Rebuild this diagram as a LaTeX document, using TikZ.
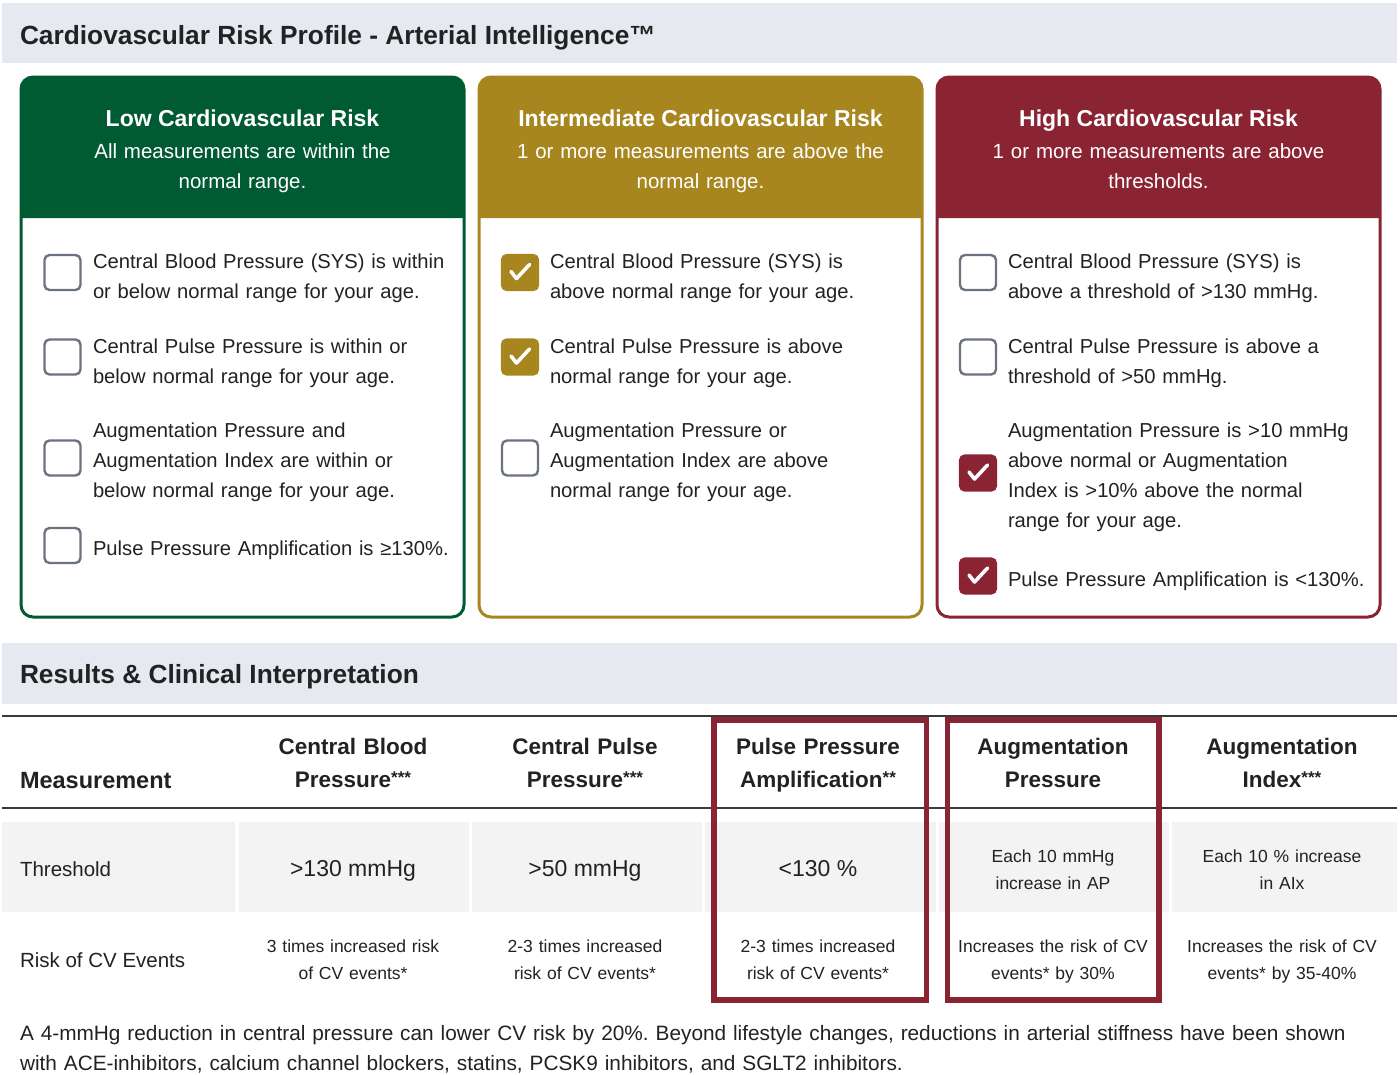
\documentclass[tikz,border=0pt]{standalone}
\usepackage{fontspec}
\setmainfont{Liberation Sans}
\frenchspacing
\definecolor{lowgreen}{HTML}{005A32}
\definecolor{midgold}{HTML}{A7861F}
\definecolor{highred}{HTML}{8A2332}
\definecolor{bandgray}{HTML}{E6E9EF}
\definecolor{cellgray}{HTML}{F3F3F3}
\definecolor{boxgray}{HTML}{6B7280}
\definecolor{ink}{HTML}{222222}
\definecolor{rulegray}{HTML}{3A3A3A}
\tikzset{
  basetxt/.style={inner sep=0pt, outer sep=0pt, text=ink},
  maintitle/.style={basetxt, anchor=base west, font=\bfseries\fontsize{26.3}{30}\selectfont},
  cardtitle/.style={inner sep=0pt, anchor=base, text=white, font=\bfseries\fontsize{23}{30}\selectfont},
  cardsub/.style={inner sep=0pt, anchor=base, text=white, align=center, text width=430pt, font=\fontsize{20.5}{30}\selectfont},
  item/.style={basetxt, anchor=base west, align=left, text width=420pt, font=\fontsize{20.2}{30.2}\selectfont},
  cbox/.style={minimum width=36pt, minimum height=35pt, inner sep=0pt, rounded corners=5pt, line width=2.4pt, draw=boxgray, fill=white},
  cboxon/.style={cbox, draw=#1, fill=#1},
  tick/.style={draw=white, line width=3.6pt, line cap=round, line join=round},
  card/.style={line width=3pt, draw=#1, fill=white, rounded corners=12pt},
  band/.style={fill=bandgray},
  tablerule/.style={draw=rulegray, line width=2pt},
  cell/.style={fill=cellgray},
  hl/.style={draw=highred, line width=5.5pt},
  thead/.style={basetxt, anchor=base, align=center, text width=230pt, font=\bfseries\fontsize{22.5}{33.5}\selectfont},
  rowlabel/.style={basetxt, anchor=base west, font=\fontsize{20.5}{30}\selectfont},
  bigval/.style={basetxt, anchor=base, font=\fontsize{23}{30}\selectfont},
  smallval/.style={basetxt, anchor=base, align=center, text width=230pt, font=\fontsize{17.5}{27}\selectfont},
  foot/.style={basetxt, anchor=base west, align=left, text width=1500pt, font=\fontsize{20.8}{30}\selectfont},
}
\newcommand{\stars}[1]{\raisebox{4pt}{\fontsize{17}{17}\selectfont #1}}
\newcommand{\tickin}[1]{\draw[tick] ([shift={(-9,-1)}]#1.center) -- ([shift={(-3.5,6)}]#1.center) -- ([shift={(9.5,-8)}]#1.center);}
\begin{document}
\begin{tikzpicture}[x=1pt, y=-1pt]
\useasboundingbox (0,0) rectangle (1400,1074);
\fill[white] (0,0) rectangle (1400,1074);

% ---------- top band ----------
\fill[band] (2,3) rectangle (1397,63);
\node[maintitle] (title) at (20,44) {Cardiovascular Risk Profile - Arterial Intelligence™};

% ---------- cards ----------
\draw[card=lowgreen] (21,77) rectangle (464,617);
\fill[lowgreen] (21,218) [rounded corners=12pt]-- (21,77) -- (464,77) [sharp corners]-- (464,218) -- cycle;
\draw[card=midgold] (479,77) rectangle (922,617);
\fill[midgold] (479,218) [rounded corners=12pt]-- (479,77) -- (922,77) [sharp corners]-- (922,218) -- cycle;
\draw[card=highred] (937,77) rectangle (1380,617);
\fill[highred] (937,218) [rounded corners=12pt]-- (937,77) -- (1380,77) [sharp corners]-- (1380,218) -- cycle;

\node[cardtitle] (lowt) at (242.5,126) {Low Cardiovascular Risk};
\node[cardsub] (lows) at (242.5,158) {All measurements are within the\\normal range.};
\node[cardtitle] (midt) at (700.5,126) {Intermediate Cardiovascular Risk};
\node[cardsub] (mids) at (700.5,158) {1 or more measurements are above the\\normal range.};
\node[cardtitle] (hight) at (1158.5,126) {High Cardiovascular Risk};
\node[cardsub] (highs) at (1158.5,158) {1 or more measurements are above\\thresholds.};

% card 1 items
\node[cbox] (c11) at (62.5,272.5) {};
\node[item] (t11) at (93,268) {Central Blood Pressure (SYS) is within\\or below normal range for your age.};
\node[cbox] (c12) at (62.5,357) {};
\node[item] (t12) at (93,353) {Central Pulse Pressure is within or\\below normal range for your age.};
\node[cbox] (c13) at (62.5,458) {};
\node[item] (t13) at (93,437) {Augmentation Pressure and\\Augmentation Index are within or\\below normal range for your age.};
\node[cbox] (c14) at (62.5,545.5) {};
\node[item] (t14) at (93,555.5) {Pulse Pressure Amplification is ≥130\%.};

% card 2 items
\node[cboxon=midgold] (c21) at (520,272.5) {};
\tickin{c21}
\node[item] (t21) at (550,268) {Central Blood Pressure (SYS) is\\above normal range for your age.};
\node[cboxon=midgold] (c22) at (520,357) {};
\tickin{c22}
\node[item] (t22) at (550,353) {Central Pulse Pressure is above\\normal range for your age.};
\node[cbox] (c23) at (520,458) {};
\node[item] (t23) at (550,437) {Augmentation Pressure or\\Augmentation Index are above\\normal range for your age.};

% card 3 items
\node[cbox] (c31) at (978,272.5) {};
\node[item] (t31) at (1008,268) {Central Blood Pressure (SYS) is\\above a threshold of >130 mmHg.};
\node[cbox] (c32) at (978,357) {};
\node[item] (t32) at (1008,353) {Central Pulse Pressure is above a\\threshold of >50 mmHg.};
\node[cboxon=highred] (c33) at (978,473) {};
\tickin{c33}
\node[item] (t33) at (1008,437) {Augmentation Pressure is >10 mmHg\\above normal or Augmentation\\Index is >10\% above the normal\\range for your age.};
\node[cboxon=highred] (c34) at (978,576) {};
\tickin{c34}
\node[item] (t34) at (1008,586) {Pulse Pressure Amplification is <130\%.};

% ---------- results band ----------
\fill[band] (2,643) rectangle (1397,704);
\node[maintitle] (restitle) at (20,683) {Results \& Clinical Interpretation};

% ---------- table ----------
\draw[tablerule] (2,716) -- (1397,716);
\draw[tablerule] (2,808) -- (1397,808);

\fill[cell] (2,822) rectangle (235,911.5);
\fill[cell] (238.5,822) rectangle (468.5,911.5);
\fill[cell] (471.5,822) rectangle (701.5,911.5);
\fill[cell] (704.5,822) rectangle (935.5,911.5);
\fill[cell] (938.5,822) rectangle (1168.5,911.5);
\fill[cell] (1171.5,822) rectangle (1397,911.5);

\node[basetxt, anchor=base west, font=\bfseries\fontsize{23.5}{30}\selectfont] (hmeas) at (20,788) {Measurement};
\node[thead] (h2) at (353,754) {Central Blood\\Pressure\stars{***}};
\node[thead] (h3) at (585,754) {Central Pulse\\Pressure\stars{***}};
\node[thead] (h4) at (818,754) {Pulse Pressure\\Amplification\stars{**}};
\node[thead] (h5) at (1053,754) {Augmentation\\Pressure};
\node[thead] (h6) at (1282,754) {Augmentation\\Index\stars{***}};

\node[rowlabel] (rthr) at (20,876) {Threshold};
\node[bigval] (v2) at (353,876) {>130 mmHg};
\node[bigval] (v3) at (585,876) {>50 mmHg};
\node[bigval] (v4) at (818,876) {<130 \%};
\node[smallval] (v5) at (1053,862) {Each 10 mmHg\\increase in AP};
\node[smallval] (v6) at (1282,862) {Each 10 \% increase\\in AIx};

\node[rowlabel] (rrisk) at (20,967) {Risk of CV Events};
\node[smallval] (r2) at (353,952) {3 times increased risk\\of CV events*};
\node[smallval] (r3) at (585,952) {2-3 times increased\\risk of CV events*};
\node[smallval] (r4) at (818,952) {2-3 times increased\\risk of CV events*};
\node[smallval] (r5) at (1053,952) {Increases the risk of CV\\events* by 30\%};
\node[smallval] (r6) at (1282,952) {Increases the risk of CV\\events* by 35-40\%};

\draw[hl] (713.75,719.75) rectangle (926.25,1000);
\draw[hl] (947.4,719.75) rectangle (1159.2,1000);

% ---------- footer ----------
\node[foot] (footer) at (20,1040) {A 4-mmHg reduction in central pressure can lower CV risk by 20\%. Beyond lifestyle changes, reductions in arterial stiffness have been shown\\with ACE-inhibitors, calcium channel blockers, statins, PCSK9 inhibitors, and SGLT2 inhibitors.};
\end{tikzpicture}
\end{document}
